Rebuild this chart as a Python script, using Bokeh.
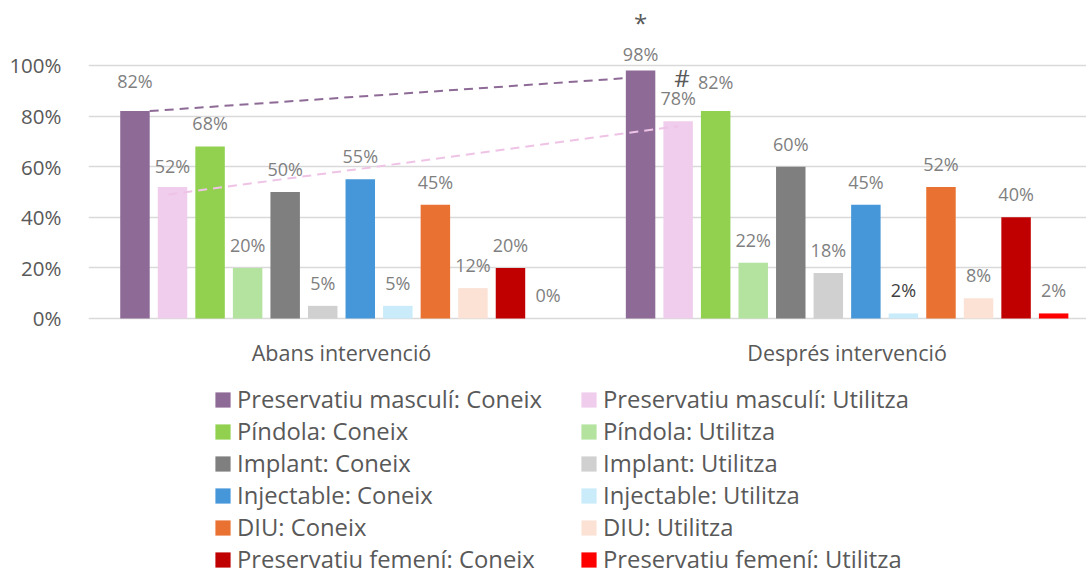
from bokeh.plotting import figure
from bokeh.models import (Range1d, FixedTicker, PrintfTickFormatter, Legend, LegendItem,
                          ColumnDataSource)
from bokeh.core.properties import value
from bokeh.embed import file_html
from bokeh.resources import INLINE

# ---------------- data ----------------
groups = ["Abans intervenció", "Després intervenció"]
series = [
    "Preservatiu masculí: Coneix", "Preservatiu masculí: Utilitza",
    "Píndola: Coneix", "Píndola: Utilitza",
    "Implant: Coneix", "Implant: Utilitza",
    "Injectable: Coneix", "Injectable: Utilitza",
    "DIU: Coneix", "DIU: Utilitza",
    "Preservatiu femení: Coneix", "Preservatiu femení: Utilitza",
]
before = [82, 52, 68, 20, 50, 5, 55, 5, 45, 12, 20, 0]
after = [98, 78, 82, 22, 60, 18, 45, 2, 52, 8, 40, 2]
ytick_values = [0, 20, 40, 60, 80, 100]

# significance marks (symbol, series index, group index)
marks = ["*", "#"]
mark_series = [0, 1]
mark_group = [1, 1]

# dashed trend annotations (start value, end value)
trend_purple = [82, 95]
trend_pink = [49, 76]

# ---------------- styles ----------------
colors = ["#8E6A96", "#F0CDED", "#92D050", "#B4E3A0", "#7F7F7F", "#D0D0D0",
          "#4697DA", "#C9EBFA", "#E97132", "#FBE2D5", "#C00000", "#FF0000"]
FONT = "Open Sans"
pitch = 0.07427
bw = 0.0583

def xpos(g, i):
    return g + (i - 5.5) * pitch

p = figure(width=1086, height=576, output_backend="svg", toolbar_location=None,
           x_range=Range1d(-0.5004, 1.4735), y_range=Range1d(-101.98, 125.69),
           x_axis_location=None,
           min_border_left=88, min_border_right=0, min_border_top=0,
           min_border_bottom=0)
p.outline_line_color = None
p.background_fill_color = "white"
p.border_fill_color = "white"

# grid
p.xgrid.visible = False
p.ygrid.ticker = FixedTicker(ticks=ytick_values)
p.ygrid.grid_line_color = "#D9D9D9"
p.ygrid.grid_line_width = 1.5

# y axis
p.yaxis.ticker = FixedTicker(ticks=ytick_values)
p.yaxis.formatter = PrintfTickFormatter(format="%d%%")
p.yaxis.axis_line_color = None
p.yaxis.major_tick_line_color = None
p.yaxis.minor_tick_line_color = None
p.yaxis.major_label_standoff = 21
p.yaxis.major_label_text_font = FONT
p.yaxis.major_label_text_font_size = "20.5px"
p.yaxis.major_label_text_color = "#595959"

# bars
renderers = []
for i, name in enumerate(series):
    src = ColumnDataSource(dict(x=[xpos(0, i), xpos(1, i)], top=[before[i], after[i]]))
    r = p.vbar(x="x", top="top", width=bw, bottom=0, source=src,
               fill_color=colors[i], line_color=None)
    renderers.append(r)

# category labels (x axis)
p.text(x=[0, 1], y=[0, 0], text=groups, y_offset=34, text_align="center",
       text_baseline="middle", text_color="#595959", text_font=value(FONT),
       text_font_size="21.5px")

# trend dashed lines
p.line(x=[xpos(0, 0) + bw / 2, xpos(1, 0) - bw / 2], y=trend_purple,
       line_color="#8E6A96", line_width=2, line_dash="9 6")
p.line(x=[xpos(0, 1) - 0.008, xpos(1, 1)], y=trend_pink,
       line_color="#EEC3E6", line_width=2, line_dash="9 6")

# data labels
lx, ly, lt, lc, loff = [], [], [], [], []
tweak = {(0, 0): -30, (0, 1): -21, (1, 0): -17, (1, 2): -29}
dark = {(1, 7)}
for g, vals in enumerate([before, after]):
    for i, v in enumerate(vals):
        lx.append(xpos(g, i))
        ly.append(v)
        lt.append(f"{v}%")
        lc.append("#404040" if (g, i) in dark else "#7F7F7F")
        loff.append(tweak.get((g, i), -23))
p.text(x="x", y="y", text="t", source=ColumnDataSource(dict(x=lx, y=ly, t=lt, c=lc, o=loff)),
       text_color="c", y_offset="o", text_align="center", text_baseline="middle",
       text_font=value(FONT), text_font_size="18px")

# significance marks
mx = [xpos(g, i) for g, i in zip(mark_group, mark_series)]
my = [(after if g == 1 else before)[i] for g, i in zip(mark_group, mark_series)]
p.text(x=mx, y=my, text=marks, x_offset=[0, 4], y_offset=[-48, -44],
       text_align="center", text_baseline="middle", text_color="#595959",
       text_font=value(FONT), text_font_size="24px")

legend = Legend(items=[LegendItem(label=s, renderers=[r]) for s, r in zip(series, renderers)],
                location=(125, 1), orientation="horizontal", ncols=2,
                glyph_width=19, glyph_height=19, label_standoff=5,
                label_width=342, label_height=32, spacing=0, padding=0, margin=0,
                border_line_color=None, background_fill_alpha=0,
                label_text_font=FONT, label_text_font_size="23.8px",
                label_text_color="#595959")
p.add_layout(legend)

open("out.html", "w").write(file_html(p, INLINE))
